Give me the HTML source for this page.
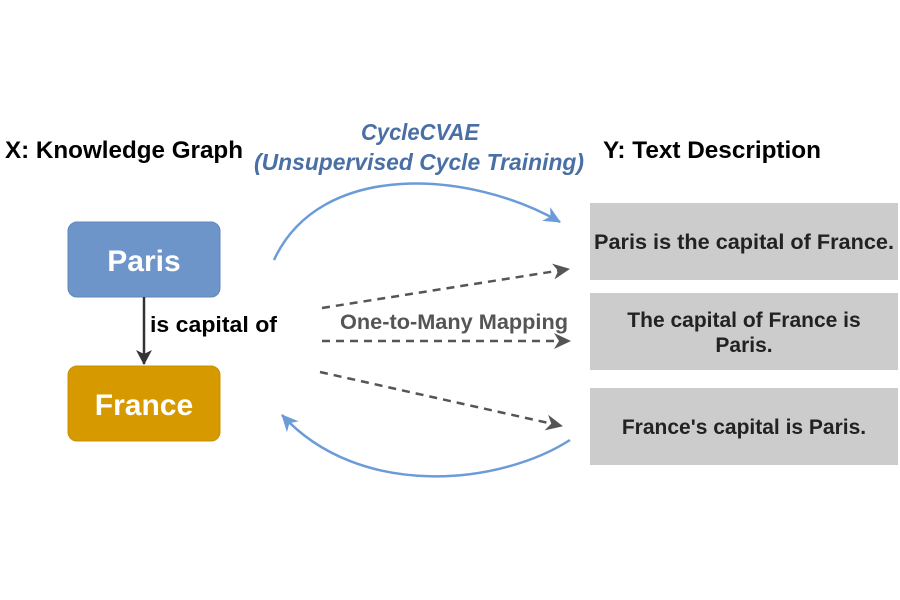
<!DOCTYPE html>
<html><head><meta charset="utf-8"><style>
html,body{margin:0;padding:0;background:#fff}
svg{display:block}
text{font-family:"Liberation Sans",Arial,sans-serif;font-weight:bold}
</style></head><body>
<svg width="900" height="600" viewBox="0 0 900 600" xmlns="http://www.w3.org/2000/svg">
<defs>
<marker id="ag" markerWidth="18" markerHeight="16" refX="16" refY="8" orient="auto" markerUnits="userSpaceOnUse"><path d="M0,0 L17,8 L0,16 L5,8 z" fill="#555"/></marker>
<marker id="ab2" markerWidth="18" markerHeight="16" refX="16" refY="8" orient="auto" markerUnits="userSpaceOnUse"><path d="M0,0 L17,8 L0,16 L5,8 z" fill="#6b9bd8"/></marker>
<marker id="ak" markerWidth="16" markerHeight="16" refX="14" refY="8" orient="auto" markerUnits="userSpaceOnUse"><path d="M0,0 L15,8 L0,16 L4,8 z" fill="#333"/></marker>
</defs>
<text x="5" y="158" font-size="24" fill="#000" textLength="238" lengthAdjust="spacingAndGlyphs">X: Knowledge Graph</text>
<text x="420" y="140" font-size="23" fill="#4a6fa5" font-style="italic" text-anchor="middle" textLength="118" lengthAdjust="spacingAndGlyphs">CycleCVAE</text>
<text x="419" y="170" font-size="23" fill="#4a6fa5" font-style="italic" text-anchor="middle" textLength="330" lengthAdjust="spacingAndGlyphs">(Unsupervised Cycle Training)</text>
<text x="603" y="158" font-size="24" fill="#000" textLength="218" lengthAdjust="spacingAndGlyphs">Y: Text Description</text>

<rect x="68" y="222" width="152" height="75" rx="9" fill="#6d95c9" stroke="#5f87bd"/>
<text x="144" y="271" font-size="30" fill="#fff" text-anchor="middle">Paris</text>
<rect x="68" y="366" width="152" height="75" rx="9" fill="#d69a00" stroke="#c88f00"/>
<text x="144" y="415" font-size="30" fill="#fff" text-anchor="middle">France</text>
<line x1="144" y1="297" x2="144" y2="364" stroke="#333" stroke-width="2.5" marker-end="url(#ak)"/>
<text x="150" y="332" font-size="22" fill="#000" textLength="127" lengthAdjust="spacingAndGlyphs">is capital of</text>

<rect x="590" y="203" width="308" height="77" fill="#cccccc"/>
<rect x="590" y="293" width="308" height="77" fill="#cccccc"/>
<rect x="590" y="388" width="308" height="77" fill="#cccccc"/>
<text x="744" y="249" font-size="21" fill="#222" text-anchor="middle" textLength="300" lengthAdjust="spacingAndGlyphs">Paris is the capital of France.</text>
<text x="744" y="327" font-size="21" fill="#222" text-anchor="middle">The capital of France is</text>
<text x="744" y="352" font-size="21" fill="#222" text-anchor="middle">Paris.</text>
<text x="744" y="434" font-size="21" fill="#222" text-anchor="middle">France's capital is Paris.</text>

<path d="M274,260 C320,160 470,170 560,222" fill="none" stroke="#6b9bd8" stroke-width="2.5" marker-end="url(#ab2)"/>
<path d="M570,440 C500,485 360,500 282,415" fill="none" stroke="#6b9bd8" stroke-width="2.5" marker-end="url(#ab2)"/>

<line x1="322" y1="308" x2="569" y2="269" stroke="#555" stroke-width="2.5" stroke-dasharray="8,6" marker-end="url(#ag)"/>
<line x1="322" y1="341" x2="570" y2="341" stroke="#555" stroke-width="2.5" stroke-dasharray="8,6" marker-end="url(#ag)"/>
<line x1="320" y1="372" x2="562" y2="426" stroke="#555" stroke-width="2.5" stroke-dasharray="8,6" marker-end="url(#ag)"/>
<text x="340" y="329" font-size="21" fill="#555" textLength="228" lengthAdjust="spacingAndGlyphs">One-to-Many Mapping</text>
</svg>
</body></html>
